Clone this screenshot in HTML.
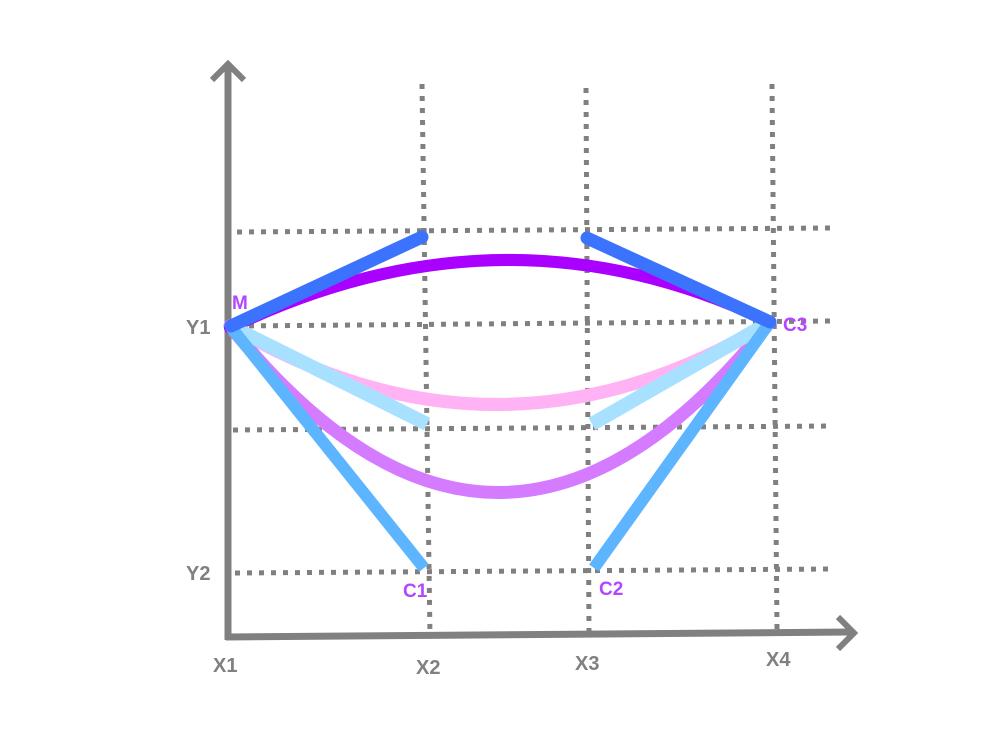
<!DOCTYPE html>
<html><head><style>html,body{margin:0;padding:0;background:#fff}svg{display:block}</style></head>
<body>
<svg width="1000" height="750" viewBox="0 0 1000 750" xmlns="http://www.w3.org/2000/svg">
<g stroke="#808080" stroke-width="5" stroke-dasharray="5 7" fill="none">
<line x1="422" y1="84" x2="430" y2="636"/>
<line x1="586" y1="88" x2="589" y2="632"/>
<line x1="772" y1="84" x2="777" y2="630"/>
<line x1="237" y1="232" x2="832" y2="228"/>
<line x1="237" y1="326" x2="832" y2="321"/>
<line x1="233" y1="430" x2="832" y2="426"/>
<line x1="235" y1="573" x2="832" y2="569"/>
</g>
<g stroke="#808080" stroke-width="7" fill="none" stroke-linecap="butt">
<line x1="228" y1="66" x2="228" y2="640"/>
<polyline points="212,80 228,64 244,80" stroke-width="6"/>
<line x1="226" y1="637" x2="850" y2="632"/>
<polyline points="838,617 854,633 838,649" stroke-width="6"/>
</g>
<g fill="none" stroke-linecap="round">
<path d="M230,326 Q500,485 770,322" stroke="#ffb3f5" stroke-width="13"/>
<path d="M230,326 Q500,661 770,322" stroke="#d57bff" stroke-width="13"/>
<path d="M230,328 Q505,195 770,322" stroke="#aa00ff" stroke-width="12"/>
<line x1="230" y1="326" x2="427" y2="424" stroke="#a8e0ff" stroke-width="14" stroke-linecap="butt"/>
<line x1="592" y1="424" x2="770" y2="322" stroke="#a8e0ff" stroke-width="14" stroke-linecap="butt"/>
<line x1="230" y1="326" x2="424" y2="568" stroke="#5eb5ff" stroke-width="12" stroke-linecap="butt"/>
<line x1="594" y1="568" x2="770" y2="322" stroke="#5eb5ff" stroke-width="12" stroke-linecap="butt"/>
<line x1="231" y1="326" x2="422" y2="237" stroke="#3b73ff" stroke-width="13"/>
<line x1="587" y1="238" x2="770" y2="322" stroke="#3b73ff" stroke-width="13"/>
</g>
<g font-family="Liberation Sans, sans-serif" font-weight="bold" font-size="20">
<text x="232" y="309" fill="#b546ff" font-size="19">M</text>
<text x="783" y="331" fill="#b546ff" font-size="19">C3</text>
<text x="403" y="597" fill="#b546ff" font-size="19">C1</text>
<text x="599" y="595" fill="#b546ff" font-size="19">C2</text>
<g fill="#808080">
<text x="186" y="334">Y1</text>
<text x="186" y="580">Y2</text>
<text x="213" y="672">X1</text>
<text x="416" y="674">X2</text>
<text x="575" y="670">X3</text>
<text x="766" y="666">X4</text>
</g>
</g>
</svg>
</body></html>
